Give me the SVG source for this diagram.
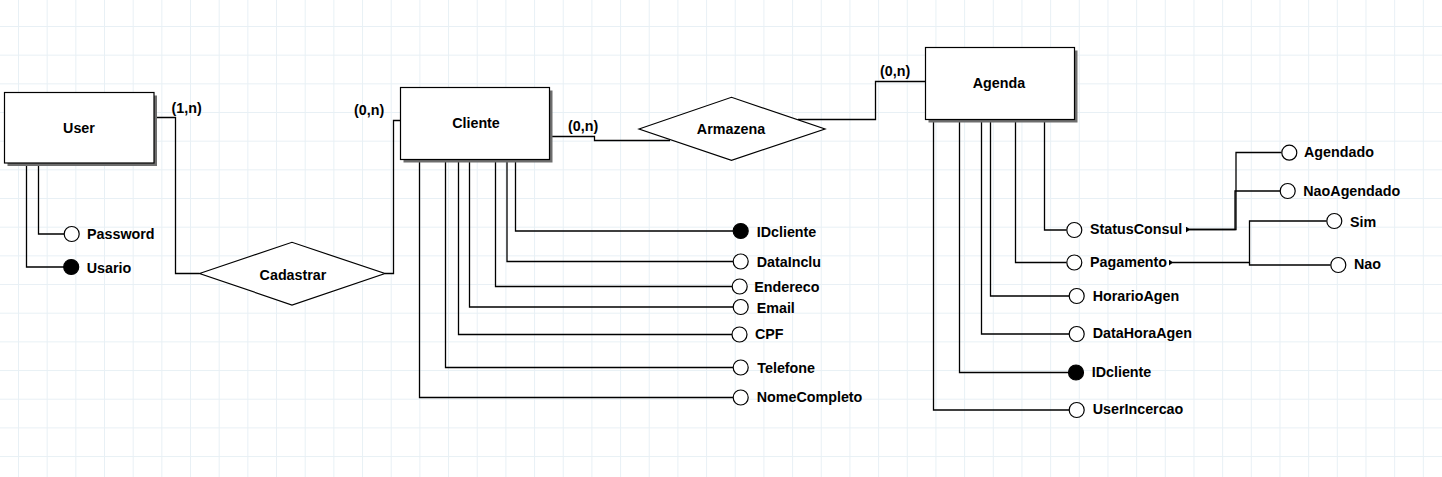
<svg xmlns="http://www.w3.org/2000/svg" width="1442" height="477" viewBox="0 0 1442 477">
<defs>
<pattern id="grid" patternUnits="userSpaceOnUse" x="18" y="26" width="28.67" height="28.67">
<path d="M0.5 0 V28.67 M0 0.5 H28.67" fill="none" stroke="#e8f0f5" stroke-width="1"/>
</pattern>
<marker id="tri" viewBox="0 0 4 6" refX="0" refY="3" markerWidth="4" markerHeight="6" markerUnits="userSpaceOnUse" orient="auto">
<path d="M0 0 L4 3 L0 6 Z" fill="#000"/>
</marker>
</defs>
<style>
text{font-family:"Liberation Sans",Arial,sans-serif;font-weight:bold;font-size:14.3px;fill:#000}
.c{text-anchor:middle}
.ent .sh{fill:#6e6e6e}
.ent .bx{fill:#fff;stroke:#000;stroke-width:1.2}
.rel{fill:#fff;stroke:#000;stroke-width:1.2}
.ln{fill:none;stroke:#000;stroke-width:1.3}
.ao{fill:#fff;stroke:#000;stroke-width:1.2}
.af{fill:#000;stroke:#000;stroke-width:1.2}
</style>
<rect width="1442" height="477" fill="#fff"/>
<rect width="1442" height="477" fill="url(#grid)"/>

<g id="connectors">
<path class="ln" d="M154 117.5 H175.5 V273.5 H199.5"/>
<path class="ln" d="M385 273.5 H393.5 V120.5 H400.5"/>
<path class="ln" d="M550 136.5 H594.5 V140.5 H670"/>
<path class="ln" d="M798 119.5 H875.5 V81.5 H926"/>
<path class="ln" d="M38.5 164 V234 H64"/>
<path class="ln" d="M26.5 164 V267 H64"/>
<path class="ln" d="M515.5 161 V231 H733"/>
<path class="ln" d="M507 161 V261.5 H733"/>
<path class="ln" d="M495.5 161 V286.5 H732"/>
<path class="ln" d="M469.5 161 V307 H733"/>
<path class="ln" d="M458.5 161 V334.5 H732"/>
<path class="ln" d="M445.5 161 V367.5 H733"/>
<path class="ln" d="M419.5 161 V397.5 H733"/>
<path class="ln" d="M1044.5 121 V230 H1066.5"/>
<path class="ln" d="M1015.5 121 V262.5 H1066.5"/>
<path class="ln" d="M990.5 121 V296 H1069"/>
<path class="ln" d="M981.5 121 V334 H1069"/>
<path class="ln" d="M959.5 121 V372.5 H1068.5"/>
<path class="ln" d="M933.5 121 V410 H1069"/>
<path class="ln" d="M1186 229.5 H1236 V152.5 H1281.5" marker-start="url(#tri)"/>
<path class="ln" d="M1186 229.5 H1235 V191 H1280"/>
<path class="ln" d="M1169 262.5 H1249.5 V221 H1326.5" marker-start="url(#tri)"/>
<path class="ln" d="M1249.5 262.5 V265 H1330.5"/>
</g>

<g id="user" class="ent">
<rect class="sh" x="7.5" y="95.5" width="149.5" height="70.5"/>
<rect class="bx" x="4.5" y="92.5" width="149.5" height="70.5"/>
<text class="c" x="79" y="133.3">User</text>
</g>
<g id="cliente" class="ent">
<rect class="sh" x="403.5" y="90.5" width="149" height="72"/>
<rect class="bx" x="400.5" y="87.5" width="149" height="72"/>
<text class="c" x="476" y="128.3">Cliente</text>
</g>
<g id="agenda" class="ent">
<rect class="sh" x="928.5" y="50.5" width="149" height="72"/>
<rect class="bx" x="925.5" y="47.5" width="149" height="72"/>
<text class="c" x="999" y="88.3">Agenda</text>
</g>

<g id="cadastrar">
<polygon class="rel" points="199.5,273.5 292,242.3 385,273.5 292,305"/>
<text class="c" x="293" y="280">Cadastrar</text>
</g>
<g id="armazena">
<polygon class="rel" points="639,129 731.5,97.3 825,129 731.5,160.3"/>
<text class="c" x="731" y="134.3">Armazena</text>
</g>

<g id="cardinalities">
<text x="171.5" y="113.3">(1,n)</text>
<text x="354" y="115">(0,n)</text>
<text x="568" y="130.7">(0,n)</text>
<text x="880" y="75.7">(0,n)</text>
</g>

<g id="attr-password"><circle class="ao" cx="71.7" cy="234" r="7.5"/><text x="87" y="238.7">Password</text></g>
<g id="attr-usario"><circle class="af" cx="71.2" cy="267" r="7.5"/><text x="86.7" y="272.7">Usario</text></g>

<g id="attr-idcliente"><circle class="af" cx="740.7" cy="231" r="7.5"/><text x="756.7" y="236.7">IDcliente</text></g>
<g id="attr-datainclu"><circle class="ao" cx="740.7" cy="261.5" r="7.5"/><text x="756.7" y="266.7">DataInclu</text></g>
<g id="attr-endereco"><circle class="ao" cx="739.7" cy="286.5" r="7.5"/><text x="754.3" y="291.7">Endereco</text></g>
<g id="attr-email"><circle class="ao" cx="740.7" cy="307" r="7.5"/><text x="756.7" y="312.7">Email</text></g>
<g id="attr-cpf"><circle class="ao" cx="739.5" cy="334.5" r="7.5"/><text x="755" y="339.3">CPF</text></g>
<g id="attr-telefone"><circle class="ao" cx="740.7" cy="367.5" r="7.5"/><text x="757.3" y="372.7">Telefone</text></g>
<g id="attr-nomecompleto"><circle class="ao" cx="740.7" cy="397.5" r="7.5"/><text x="756.7" y="402.3">NomeCompleto</text></g>

<g id="attr-statusconsul"><circle class="ao" cx="1074.3" cy="230" r="7.5"/><text x="1090" y="234.3">StatusConsul</text></g>
<g id="attr-pagamento"><circle class="ao" cx="1074.3" cy="262.5" r="7.5"/><text x="1090" y="266.7">Pagamento</text></g>
<g id="attr-horarioagen"><circle class="ao" cx="1076.7" cy="296" r="7.5"/><text x="1092.7" y="300.7">HorarioAgen</text></g>
<g id="attr-datahoraagen"><circle class="ao" cx="1076.7" cy="334" r="7.5"/><text x="1092.7" y="338.3">DataHoraAgen</text></g>
<g id="attr-idcliente2"><circle class="af" cx="1076" cy="372.5" r="7.5"/><text x="1091.7" y="377.3">IDcliente</text></g>
<g id="attr-userincercao"><circle class="ao" cx="1076.7" cy="410" r="7.5"/><text x="1092.7" y="414.3">UserIncercao</text></g>

<g id="attr-agendado"><circle class="ao" cx="1289.3" cy="152.7" r="7.5"/><text x="1304" y="157.3">Agendado</text></g>
<g id="attr-naoagendado"><circle class="ao" cx="1287.7" cy="191" r="7.5"/><text x="1303.3" y="196">NaoAgendado</text></g>
<g id="attr-sim"><circle class="ao" cx="1334.3" cy="221" r="7.5"/><text x="1350" y="226.7">Sim</text></g>
<g id="attr-nao"><circle class="ao" cx="1338.3" cy="265" r="7.5"/><text x="1354" y="269.3">Nao</text></g>
</svg>
